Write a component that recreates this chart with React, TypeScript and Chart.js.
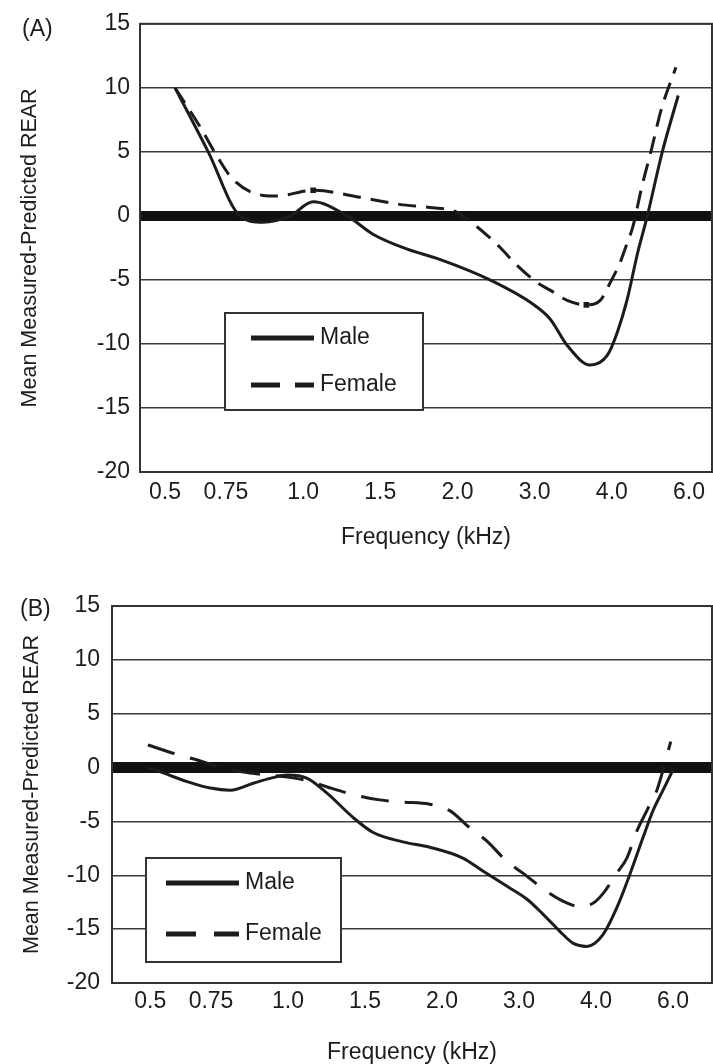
import React, { useEffect, useRef } from "react";
import { Chart, registerables } from "chart.js";

Chart.register(...registerables);

const FONT = "'Liberation Sans', Arial, Helvetica, sans-serif";
const INK = "#1c1c1c";

// ---- axis data ----
const freqLabels = ["0.5", "0.75", "1.0", "1.5", "2.0", "3.0", "4.0", "6.0"];
const freqPositions = [0.21, 1, 2, 3, 4, 5, 6, 7];
const yMin = -20;
const yMax = 15;
const yStep = 5;
const seriesNames = ["Male", "Female"];
const xTitle = "Frequency (kHz)";
const yTitle = "Mean Measured-Predicted REAR";

// ---- Panel A ----
const maleAX = [0.34, 0.77, 1.18, 1.48, 1.83, 2.13, 2.57, 2.91, 3.35, 3.77, 4.42, 4.98, 5.2, 5.42, 5.72, 5.94, 6.07, 6.2, 6.33, 6.46, 6.65, 6.86];
const maleAY = [10, 5.0, 0, -0.5, 0, 1.1, 0, -1.45, -2.6, -3.4, -5.0, -6.9, -8.05, -10.1, -11.65, -10.9, -9.1, -6.5, -3.0, 0, 4.9, 9.4];
const femaleAX = [0.34, 0.66, 0.88, 1.09, 1.48, 1.66, 2.13, 2.74, 3.25, 3.64, 3.99, 4.2, 4.38, 4.55, 4.77, 5.03, 5.2, 5.42, 5.67, 5.85, 5.98, 6.11, 6.2, 6.27, 6.39, 6.51, 6.64, 6.83];
const femaleAY = [10, 7.0, 4.7, 2.85, 1.6, 1.55, 2.0, 1.45, 0.9, 0.65, 0.3, -0.6, -1.5, -2.45, -3.85, -5.2, -5.8, -6.6, -6.95, -6.6, -5.2, -3.6, -2.1, -0.9, 2.3, 5.1, 8.3, 11.6];
const femaleAMarkers = [6, 18];

// ---- Panel B ----
const maleBX = [0.18, 0.38, 0.69, 0.99, 1.25, 1.55, 1.77, 1.99, 2.25, 2.51, 2.84, 3.1, 3.49, 3.84, 4.27, 4.53, 4.84, 5.1, 5.31, 5.53, 5.7, 5.88, 6.09, 6.27, 6.44, 6.61, 6.74, 6.87, 7.0];
const maleBY = [0, -0.5, -1.3, -1.9, -2.1, -1.45, -1.0, -0.7, -1.0, -2.4, -4.6, -6.0, -6.9, -7.4, -8.4, -9.6, -11.0, -12.2, -13.6, -15.2, -16.3, -16.6, -15.5, -13.0, -9.9, -6.5, -4.0, -2.1, -0.2];
const femaleBX = [0.18, 0.57, 0.82, 0.95, 1.4, 1.9, 2.25, 2.51, 2.84, 3.19, 3.49, 3.84, 4.1, 4.36, 4.58, 4.84, 5.05, 5.36, 5.57, 5.79, 5.96, 6.09, 6.27, 6.4, 6.53, 6.66, 6.79, 6.97];
const femaleBY = [2.1, 1.2, 0.7, 0.4, -0.4, -0.8, -1.2, -1.8, -2.5, -3.0, -3.2, -3.4, -4.0, -5.6, -6.8, -8.7, -9.8, -11.5, -12.4, -12.9, -12.6, -11.7, -9.8, -8.4, -5.9, -4.0, -2.1, 2.4];
const femaleBMarkers: number[] = [];

const toPts = (xs: number[], ys: number[]) => xs.map((x, i) => ({ x, y: ys[i] }));

const framePlugin = {
  id: "frame",
  afterDatasetsDraw(chart: any) {
    const { ctx, chartArea: a } = chart;
    ctx.save();
    ctx.strokeStyle = "#333";
    ctx.lineWidth = 2;
    ctx.strokeRect(a.left, a.top, a.right - a.left, a.bottom - a.top);
    ctx.restore();
  },
};

const boxLegendPlugin = {
  id: "boxLegend",
  afterDraw(chart: any, _args: any, o: any) {
    const { ctx } = chart;
    ctx.save();
    ctx.fillStyle = "#fff";
    ctx.fillRect(o.x, o.y, o.w, o.h);
    ctx.strokeStyle = "#333";
    ctx.lineWidth = 2;
    ctx.strokeRect(o.x, o.y, o.w, o.h);
    chart.data.datasets.forEach((ds: any, i: number) => {
      const ry = o.rows[i];
      ctx.strokeStyle = INK;
      ctx.lineWidth = 5;
      ctx.lineCap = "butt";
      ctx.setLineDash(i === 0 ? [] : o.dash);
      ctx.beginPath();
      ctx.moveTo(o.x0, ry);
      ctx.lineTo(o.x1, ry);
      ctx.stroke();
      ctx.setLineDash([]);
      ctx.fillStyle = INK;
      ctx.font = `23px ${FONT}`;
      ctx.textAlign = "left";
      ctx.textBaseline = "middle";
      ctx.fillText(ds.label, o.textX, ry);
    });
    ctx.restore();
  },
};

const panelTagPlugin = {
  id: "panelTag",
  afterDraw(chart: any, _args: any, o: any) {
    const { ctx } = chart;
    ctx.save();
    ctx.fillStyle = INK;
    ctx.font = `23px ${FONT}`;
    ctx.textAlign = "left";
    ctx.textBaseline = "middle";
    ctx.fillText(o.text, o.x, o.y);
    ctx.restore();
  },
};

type Panel = {
  tag: string;
  height: number;
  maleX: number[];
  maleY: number[];
  femaleX: number[];
  femaleY: number[];
  markers: number[];
  xMin: number;
  xMax: number;
  padTop: number;
  yAxisWidth: number;
  xAxisHeight: number;
  yTickPad: number;
  yTitlePad: number;
  xTickPad: number;
  xTitlePad: number;
  zeroWidth: number;
  dash: number[];
  legend: any;
  tagPos: { x: number; y: number };
};

const panels: Panel[] = [
  {
    tag: "(A)",
    height: 560,
    maleX: maleAX,
    maleY: maleAY,
    femaleX: femaleAX,
    femaleY: femaleAY,
    markers: femaleAMarkers,
    xMin: -0.114,
    xMax: 7.298,
    padTop: 20,
    yAxisWidth: 140,
    xAxisHeight: 88,
    yTickPad: 10,
    yTitlePad: 17,
    xTickPad: 7,
    xTitlePad: 9,
    zeroWidth: 10,
    dash: [18, 10],
    legend: { x: 225, y: 313, w: 198, h: 97, rows: [338, 385], x0: 251, x1: 314, textX: 320, dash: [29, 15] },
    tagPos: { x: 22, y: 30 },
  },
  {
    tag: "(B)",
    height: 520,
    maleX: maleBX,
    maleY: maleBY,
    femaleX: femaleBX,
    femaleY: femaleBY,
    markers: femaleBMarkers,
    xMin: -0.286,
    xMax: 7.506,
    padTop: 46,
    yAxisWidth: 112,
    xAxisHeight: 97,
    yTickPad: 12,
    yTitlePad: 19,
    xTickPad: 5,
    xTitlePad: 14,
    zeroWidth: 11,
    dash: [28, 16],
    legend: { x: 146, y: 298, w: 195, h: 104, rows: [323, 374], x0: 166, x1: 239, textX: 245, dash: [30, 18] },
    tagPos: { x: 20, y: 50 },
  },
];

function PanelChart({ p }: { p: Panel }) {
  const ref = useRef<HTMLCanvasElement>(null);
  useEffect(() => {
    const chart = new Chart(ref.current as HTMLCanvasElement, {
      type: "line",
      data: {
        datasets: [
          {
            label: seriesNames[0],
            data: toPts(p.maleX, p.maleY),
            borderColor: INK,
            borderWidth: 3,
            pointRadius: 0,
            cubicInterpolationMode: "monotone",
            fill: false,
          },
          {
            label: seriesNames[1],
            data: toPts(p.femaleX, p.femaleY),
            borderColor: INK,
            borderWidth: 3,
            borderDash: p.dash,
            pointStyle: "rect",
            pointRadius: (c: any) => (p.markers.includes(c.dataIndex) ? 4 : 0),
            pointBackgroundColor: INK,
            pointBorderColor: INK,
            pointBorderWidth: 0,
            cubicInterpolationMode: "monotone",
            fill: false,
          },
        ] as any,
      },
      options: {
        responsive: false,
        animation: false,
        events: [],
        layout: { padding: { top: p.padTop, right: 1, bottom: 0, left: 0 } },
        plugins: {
          legend: { display: false },
          tooltip: { enabled: false },
          boxLegend: p.legend,
          panelTag: { text: p.tag, x: p.tagPos.x, y: p.tagPos.y },
        } as any,
        scales: {
          x: {
            type: "linear",
            min: p.xMin,
            max: p.xMax,
            afterBuildTicks: (s: any) => {
              s.ticks = freqPositions.map((v) => ({ value: v }));
            },
            afterFit: (s: any) => {
              s.height = p.xAxisHeight;
            },
            ticks: {
              callback: (_v: any, i: number) => freqLabels[i],
              autoSkip: false,
              maxRotation: 0,
              padding: p.xTickPad,
              color: INK,
              font: { family: FONT, size: 23 },
            },
            grid: { display: false, drawTicks: false },
            border: { display: false },
            title: {
              display: true,
              text: xTitle,
              color: INK,
              font: { family: FONT, size: 23 },
              padding: { top: 0, bottom: p.xTitlePad },
            },
          },
          y: {
            type: "linear",
            min: yMin,
            max: yMax,
            afterFit: (s: any) => {
              s.width = p.yAxisWidth;
            },
            ticks: {
              stepSize: yStep,
              padding: p.yTickPad,
              color: INK,
              font: { family: FONT, size: 23 },
            },
            grid: {
              drawTicks: false,
              color: (c: any) => (c.tick && c.tick.value === 0 ? "#111" : "#3a3a3a"),
              lineWidth: (c: any) => (c.tick && c.tick.value === 0 ? p.zeroWidth : 1.5),
            },
            border: { display: false },
            title: {
              display: true,
              text: yTitle,
              color: INK,
              font: { family: FONT, size: 21.5 },
              padding: { top: p.yTitlePad, bottom: 0 },
            },
          },
        },
      } as any,
      plugins: [framePlugin, boxLegendPlugin, panelTagPlugin],
    });
    return () => chart.destroy();
  }, [p]);
  return (
    <canvas
      ref={ref}
      width={713}
      height={p.height}
      style={{ display: "block", width: 713, height: p.height }}
    />
  );
}

export default function App() {
  return (
    <div
      style={{
        position: "absolute",
        left: 0,
        top: 0,
        width: 713,
        height: 1064,
        overflow: "hidden",
        background: "#fff",
      }}
    >
      <PanelChart p={panels[0]} />
      <PanelChart p={panels[1]} />
    </div>
  );
}
